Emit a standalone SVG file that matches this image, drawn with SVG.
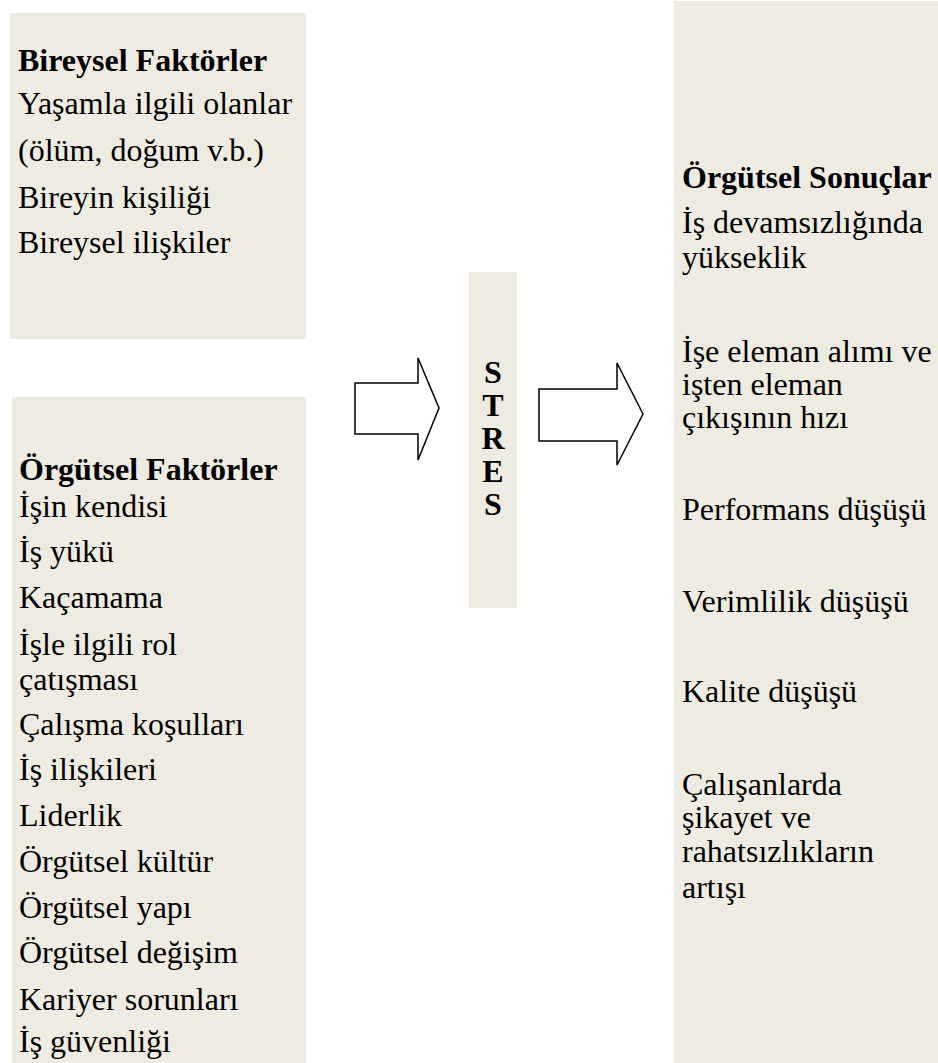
<svg xmlns="http://www.w3.org/2000/svg" width="938" height="1063" viewBox="0 0 938 1063">
<style>
.box{fill:#EEECE1;stroke:none}
.t{font-family:"Liberation Serif","Times New Roman",serif;font-size:32px;fill:#000}
.b{font-weight:bold}
.arrow{fill:#fff;stroke:#000;stroke-width:1.5;stroke-linejoin:miter}
</style>
<rect width="938" height="1063" fill="#fff"/>
<g id="bireysel">
<rect class="box" x="10" y="13" width="296" height="326"/>
<text class="t b" x="18" y="71">Bireysel Faktörler</text>
<text class="t" x="18" y="114">Yaşamla ilgili olanlar</text>
<text class="t" x="18" y="161">(ölüm, doğum v.b.)</text>
<text class="t" x="18" y="208">Bireyin kişiliği</text>
<text class="t" x="18" y="253">Bireysel ilişkiler</text>
</g>
<g id="orgutsel-faktorler">
<rect class="box" x="12" y="397" width="294" height="666"/>
<text class="t b" x="19" y="480">Örgütsel Faktörler</text>
<text class="t" x="19" y="517">İşin kendisi</text>
<text class="t" x="19" y="562">İş yükü</text>
<text class="t" x="19" y="608">Kaçamama</text>
<text class="t" x="19" y="655">İşle ilgili rol</text>
<text class="t" x="19" y="690">çatışması</text>
<text class="t" x="19" y="735">Çalışma koşulları</text>
<text class="t" x="19" y="780">İş ilişkileri</text>
<text class="t" x="19" y="826">Liderlik</text>
<text class="t" x="19" y="872">Örgütsel kültür</text>
<text class="t" x="19" y="918">Örgütsel yapı</text>
<text class="t" x="19" y="963">Örgütsel değişim</text>
<text class="t" x="19" y="1010">Kariyer sorunları</text>
<text class="t" x="19" y="1052">İş güvenliği</text>
</g>
<g id="stres">
<rect class="box" x="469" y="272" width="48" height="336"/>
<g class="t b" text-anchor="middle">
<text x="493" y="383">S</text>
<text x="493" y="416">T</text>
<text x="493" y="449">R</text>
<text x="493" y="482">E</text>
<text x="493" y="515">S</text>
</g>
</g>
<g id="orgutsel-sonuclar">
<rect class="box" x="674" y="1" width="264" height="1062"/>
<text class="t b" x="682" y="188">Örgütsel Sonuçlar</text>
<text class="t" x="682" y="233">İş devamsızlığında</text>
<text class="t" x="682" y="268">yükseklik</text>
<text class="t" x="682" y="362">İşe eleman alımı ve</text>
<text class="t" x="682" y="395">işten eleman</text>
<text class="t" x="682" y="428">çıkışının hızı</text>
<text class="t" x="682" y="520">Performans düşüşü</text>
<text class="t" x="682" y="612">Verimlilik düşüşü</text>
<text class="t" x="682" y="702">Kalite düşüşü</text>
<text class="t" x="682" y="795">Çalışanlarda</text>
<text class="t" x="682" y="828">şikayet ve</text>
<text class="t" x="682" y="862">rahatsızlıkların</text>
<text class="t" x="682" y="898">artışı</text>
</g>
<g id="connectors">
<polygon class="arrow" points="355,383 418,383 418,358 439,408 418,460 418,434 355,434"/>
<polygon class="arrow" points="539,389 617,389 617,363 643,414 617,465 617,441 539,441"/>
</g>
</svg>
